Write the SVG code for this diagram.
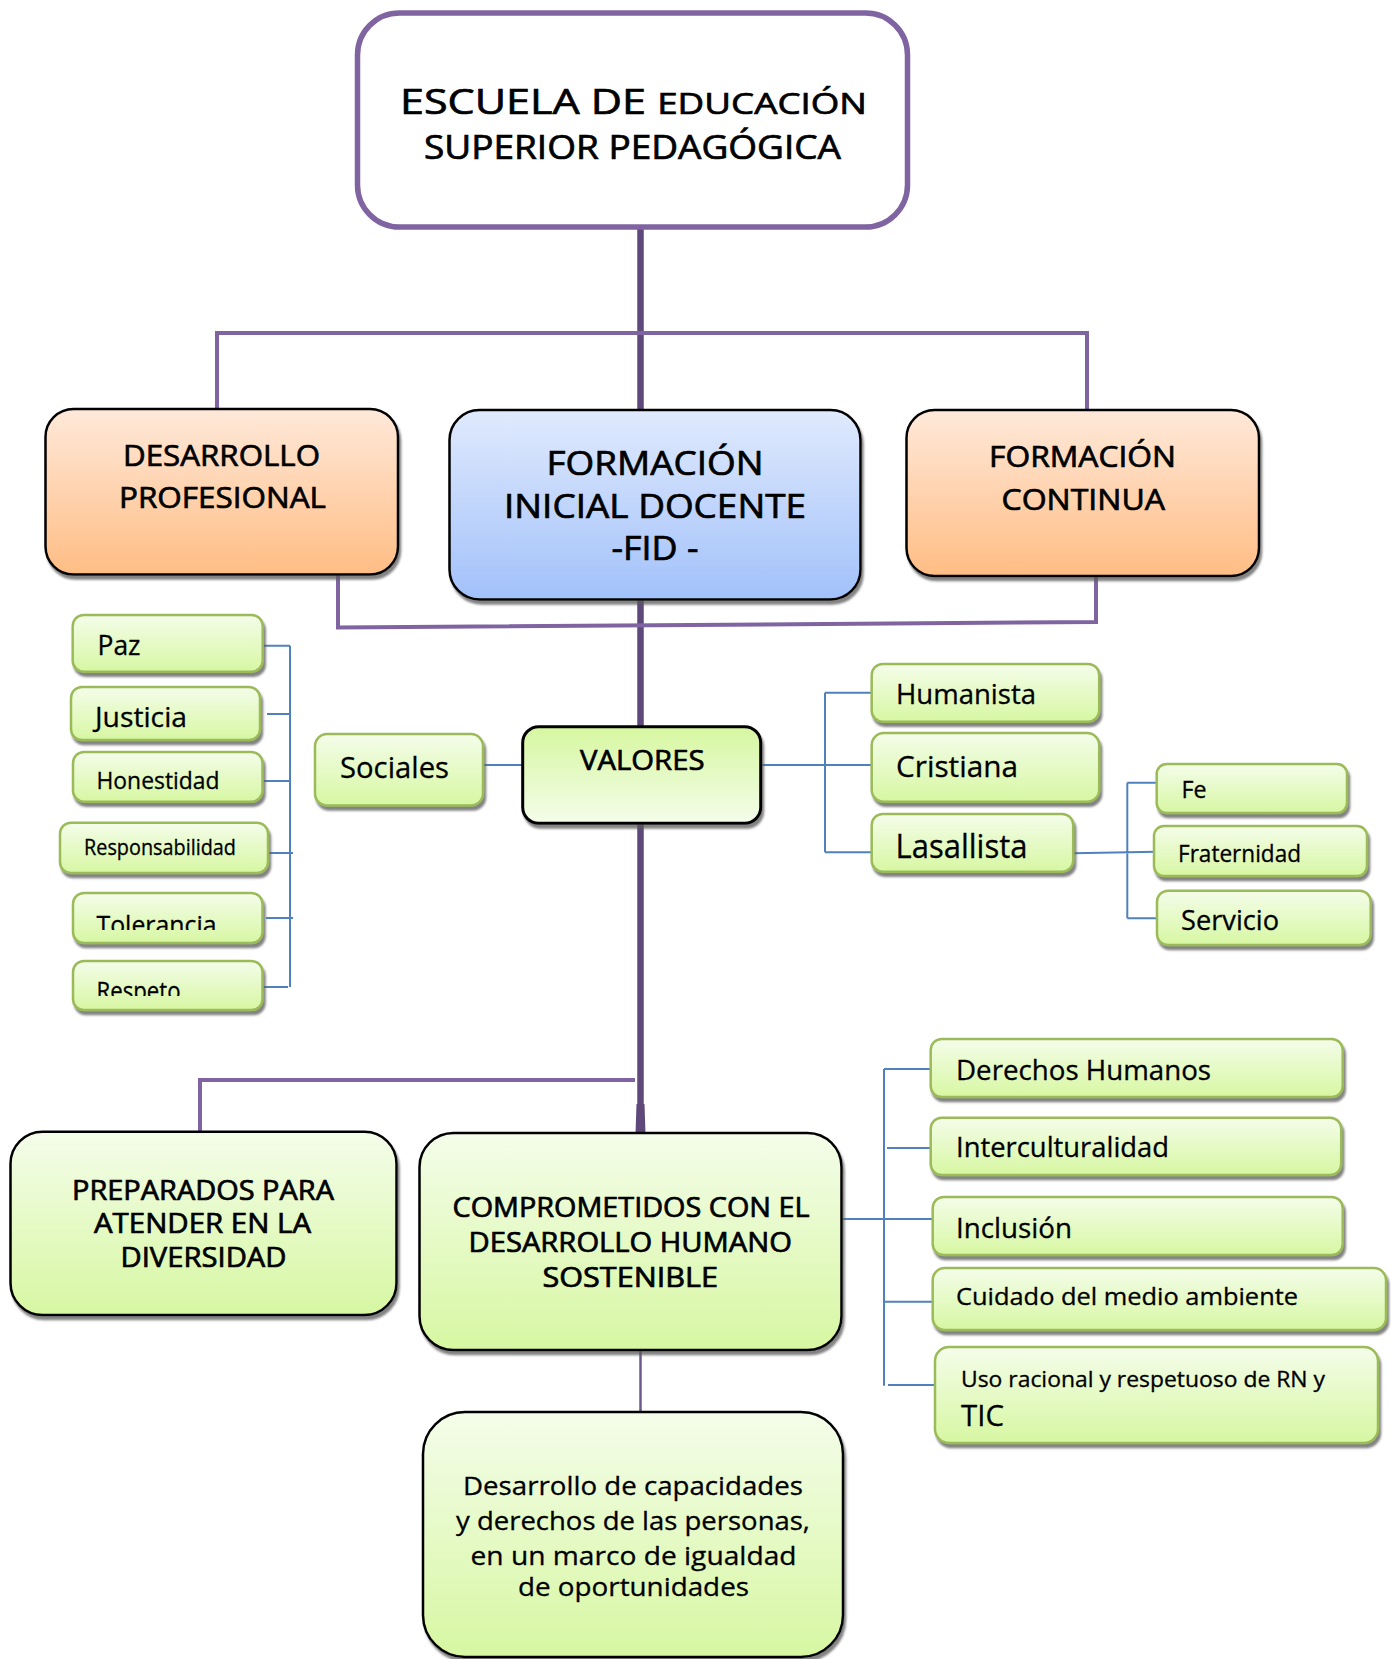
<svg xmlns="http://www.w3.org/2000/svg" width="1391" height="1659" viewBox="0 0 1391 1659">
<defs>
<linearGradient id="gOr" x1="0" y1="0" x2="0" y2="1"><stop offset="0" stop-color="#FFE9DA"/><stop offset="1" stop-color="#FFBD84"/></linearGradient>
<linearGradient id="gBl" x1="0" y1="0" x2="0" y2="1"><stop offset="0" stop-color="#E0EAFD"/><stop offset="1" stop-color="#A2C1FA"/></linearGradient>
<linearGradient id="gGr" x1="0" y1="0" x2="0" y2="1"><stop offset="0" stop-color="#F4FDEA"/><stop offset="1" stop-color="#D7F7A2"/></linearGradient>
<linearGradient id="gGrR" x1="0" y1="0" x2="0" y2="1"><stop offset="0" stop-color="#D6F7A0"/><stop offset="1" stop-color="#F4FDEA"/></linearGradient>
<filter id="sh" x="-10%" y="-10%" width="130%" height="140%"><feDropShadow dx="2" dy="4" stdDeviation="1.3" flood-color="#5a5a5a" flood-opacity="0.75"/></filter>
<clipPath id="cTol"><rect x="60" y="890" width="210" height="40"/></clipPath>
<clipPath id="cRes"><rect x="60" y="955" width="210" height="41"/></clipPath>
</defs>
<style>
text{font-family:"Open Sans","Liberation Sans",sans-serif;fill:#000;stroke:#000;stroke-width:0.3}
text.h{stroke-width:0.7}
.pl{stroke:#8064A2;stroke-width:4;fill:none}
.tr{stroke:#5F497A;stroke-width:6.5;fill:none}
.bl{stroke:#4F81BD;stroke-width:2;fill:none}
.big{stroke:#000;stroke-width:2.5;filter:url(#sh)}
.sm{fill:url(#gGr);stroke:#9BBB59;stroke-width:2.5;filter:url(#sh)}
</style>
<rect width="1391" height="1659" fill="#fff"/>
<g id="connectors">
<path class="tr" d="M640.5 227 V1134"/>
<path d="M636.5 1104 L644.5 1104 L645.5 1134 L635.5 1134 Z" fill="#5F497A"/>
<path d="M640.5 1350 V1433" stroke="#6B5A8E" stroke-width="2.5" fill="none"/>
<path class="pl" d="M217 409 V333 H1087 V410"/>
<path class="pl" d="M338 575 V627.5 L1096 622 V576"/>
<path class="pl" d="M200 1132 V1080 H635"/>
<path class="bl" d="M483 765 H522.5"/>
<path class="bl" d="M290 645.7 V987 M262 645.7 H290 M267 714 H290 M262 781 H290 M266 853 H293 M266 918 H293 M259 987 H288"/>
<path class="bl" d="M760.7 765 H872 M825 692.7 V852.3 M825 692.7 H872 M825 852.3 H872"/>
<path class="bl" d="M1073 853.3 L1156 851.7 M1127.3 782.7 V918.3 M1127.3 782.7 H1156 M1127.3 918.3 H1157"/>
<path class="bl" d="M841 1219 H938 M884 1069 V1385.7 M884 1069 H940.7 M887 1148 H931 M884 1301.7 H933 M888 1385 H935"/>
</g>
<g id="n-escuela">
<rect x="357.5" y="13" width="550" height="214" rx="42" fill="#fff" stroke="#8064A2" stroke-width="5.5"/>
<text class="h" x="400" y="114" textLength="467" lengthAdjust="spacingAndGlyphs"><tspan font-size="34">ESCUELA DE </tspan><tspan font-size="29">EDUCACIÓN</tspan></text>
<text class="h" x="424" y="159" font-size="32" textLength="417" lengthAdjust="spacingAndGlyphs">SUPERIOR PEDAGÓGICA</text>
</g>
<g id="n-desarrollo-prof">
<rect class="big" x="45.5" y="409" width="352.5" height="165.5" rx="28" fill="url(#gOr)"/>
<text class="h" x="123" y="466" font-size="29.5" textLength="197" lengthAdjust="spacingAndGlyphs">DESARROLLO</text>
<text class="h" x="119" y="508" font-size="29.5" textLength="207" lengthAdjust="spacingAndGlyphs">PROFESIONAL</text>
</g>
<g id="n-fid">
<rect class="big" x="449.5" y="410" width="411" height="189.5" rx="30" fill="url(#gBl)"/>
<text class="h" x="546.5" y="475" font-size="33" textLength="217" lengthAdjust="spacingAndGlyphs">FORMACIÓN</text>
<text class="h" x="504" y="518" font-size="33" textLength="302" lengthAdjust="spacingAndGlyphs">INICIAL DOCENTE</text>
<text class="h" x="611.5" y="560" font-size="33" textLength="87" lengthAdjust="spacingAndGlyphs">-FID -</text>
</g>
<g id="n-formacion-continua">
<rect class="big" x="906.5" y="410" width="352.5" height="166" rx="28" fill="url(#gOr)"/>
<text class="h" x="989" y="467" font-size="29" textLength="187" lengthAdjust="spacingAndGlyphs">FORMACIÓN</text>
<text class="h" x="1001.5" y="509.5" font-size="29" textLength="163.5" lengthAdjust="spacingAndGlyphs">CONTINUA</text>
</g>
<g id="n-valores">
<rect x="522.7" y="726.7" width="238" height="96.6" rx="16" fill="url(#gGrR)" stroke="#000" stroke-width="3" filter="url(#sh)"/>
<text class="h" x="580" y="769.5" font-size="28" textLength="124.5" lengthAdjust="spacingAndGlyphs">VALORES</text>
</g>
<g id="n-sociales">
<rect class="sm" x="315" y="734" width="168" height="71.5" rx="12"/>
<text x="340" y="778" font-size="30" textLength="109" lengthAdjust="spacingAndGlyphs">Sociales</text>
</g>
<g id="n-paz">
<rect class="sm" x="72.7" y="615" width="190" height="56.7" rx="11"/>
<text x="97.5" y="655" font-size="28" textLength="43" lengthAdjust="spacingAndGlyphs">Paz</text>
</g>
<g id="n-justicia">
<rect class="sm" x="71" y="687" width="189" height="53" rx="11"/>
<text x="95" y="727" font-size="28" textLength="92" lengthAdjust="spacingAndGlyphs">Justicia</text>
</g>
<g id="n-honestidad">
<rect class="sm" x="73" y="752" width="189.5" height="49.7" rx="11"/>
<text x="96.5" y="789" font-size="24" textLength="123" lengthAdjust="spacingAndGlyphs">Honestidad</text>
</g>
<g id="n-responsabilidad">
<rect class="sm" x="60" y="822.7" width="208" height="50.3" rx="11"/>
<text x="84" y="855" font-size="21" textLength="152" lengthAdjust="spacingAndGlyphs">Responsabilidad</text>
</g>
<g id="n-tolerancia">
<rect class="sm" x="73" y="893" width="189.5" height="50" rx="11"/>
<text x="96.5" y="934" font-size="26" textLength="120" lengthAdjust="spacingAndGlyphs" clip-path="url(#cTol)">Tolerancia</text>
</g>
<g id="n-respeto">
<rect class="sm" x="73" y="961" width="189.5" height="49" rx="11"/>
<text x="96.5" y="1000" font-size="25" textLength="84" lengthAdjust="spacingAndGlyphs" clip-path="url(#cRes)">Respeto</text>
</g>
<g id="n-humanista">
<rect class="sm" x="871.7" y="664" width="227.5" height="57.7" rx="11"/>
<text x="896" y="704" font-size="27" textLength="140" lengthAdjust="spacingAndGlyphs">Humanista</text>
</g>
<g id="n-cristiana">
<rect class="sm" x="871.7" y="733" width="227.5" height="68.7" rx="12"/>
<text x="896" y="776.5" font-size="30" textLength="122" lengthAdjust="spacingAndGlyphs">Cristiana</text>
</g>
<g id="n-lasallista">
<rect class="sm" x="871.7" y="814" width="201.5" height="57.7" rx="11"/>
<text x="895.5" y="858" font-size="32" textLength="132" lengthAdjust="spacingAndGlyphs">Lasallista</text>
</g>
<g id="n-fe">
<rect class="sm" x="1156.7" y="764" width="190.3" height="49" rx="10"/>
<text x="1181.5" y="798" font-size="23" textLength="25" lengthAdjust="spacingAndGlyphs">Fe</text>
</g>
<g id="n-fraternidad">
<rect class="sm" x="1154" y="826" width="213" height="50" rx="10"/>
<text x="1178" y="861.5" font-size="23" textLength="123" lengthAdjust="spacingAndGlyphs">Fraternidad</text>
</g>
<g id="n-servicio">
<rect class="sm" x="1157" y="890.7" width="213.7" height="54.3" rx="11"/>
<text x="1181" y="930" font-size="28" textLength="98" lengthAdjust="spacingAndGlyphs">Servicio</text>
</g>
<g id="n-preparados">
<rect class="big" x="10.5" y="1131.7" width="386" height="183.3" rx="32" fill="url(#gGr)"/>
<text class="h" x="72" y="1200" font-size="26.5" textLength="262" lengthAdjust="spacingAndGlyphs">PREPARADOS PARA</text>
<text class="h" x="94" y="1233" font-size="26.5" textLength="217" lengthAdjust="spacingAndGlyphs">ATENDER EN LA</text>
<text class="h" x="120.5" y="1266.5" font-size="26.5" textLength="166" lengthAdjust="spacingAndGlyphs">DIVERSIDAD</text>
</g>
<g id="n-comprometidos">
<rect class="big" x="419.5" y="1133" width="422" height="217" rx="34" fill="url(#gGr)"/>
<text class="h" x="452.5" y="1216.5" font-size="27" textLength="357" lengthAdjust="spacingAndGlyphs">COMPROMETIDOS CON EL</text>
<text class="h" x="468.5" y="1251.5" font-size="27" textLength="323.5" lengthAdjust="spacingAndGlyphs">DESARROLLO HUMANO</text>
<text class="h" x="542.5" y="1286.5" font-size="27" textLength="175.5" lengthAdjust="spacingAndGlyphs">SOSTENIBLE</text>
</g>
<g id="n-derechos">
<rect class="sm" x="930.7" y="1039" width="412" height="58" rx="11"/>
<text x="956" y="1079.5" font-size="27" textLength="255" lengthAdjust="spacingAndGlyphs">Derechos Humanos</text>
</g>
<g id="n-interculturalidad">
<rect class="sm" x="930.7" y="1117.7" width="410.5" height="57.3" rx="11"/>
<text x="956" y="1157" font-size="27" textLength="213" lengthAdjust="spacingAndGlyphs">Interculturalidad</text>
</g>
<g id="n-inclusion">
<rect class="sm" x="932.7" y="1197" width="410" height="58" rx="11"/>
<text x="956" y="1237.5" font-size="27" textLength="116" lengthAdjust="spacingAndGlyphs">Inclusión</text>
</g>
<g id="n-cuidado">
<rect class="sm" x="932.7" y="1268" width="453.3" height="62" rx="12"/>
<text x="956" y="1305" font-size="23.5" textLength="342" lengthAdjust="spacingAndGlyphs">Cuidado del medio ambiente</text>
</g>
<g id="n-uso">
<rect class="sm" x="935" y="1347" width="443" height="96" rx="14"/>
<text x="961" y="1386.5" font-size="21" textLength="364" lengthAdjust="spacingAndGlyphs">Uso racional y respetuoso de RN y</text>
<text x="961" y="1426" font-size="30" textLength="43" lengthAdjust="spacingAndGlyphs">TIC</text>
</g>
<g id="n-desarrollo-capacidades">
<rect class="big" x="423" y="1412" width="420" height="245" rx="42" fill="url(#gGr)"/>
<text x="463" y="1495" font-size="25" textLength="340" lengthAdjust="spacingAndGlyphs">Desarrollo de capacidades</text>
<text x="456" y="1530" font-size="25" textLength="354" lengthAdjust="spacingAndGlyphs">y derechos de las personas,</text>
<text x="470.5" y="1564.5" font-size="25" textLength="326" lengthAdjust="spacingAndGlyphs">en un marco de igualdad</text>
<text x="518" y="1596" font-size="25" textLength="231" lengthAdjust="spacingAndGlyphs">de oportunidades</text>
</g>
</svg>
